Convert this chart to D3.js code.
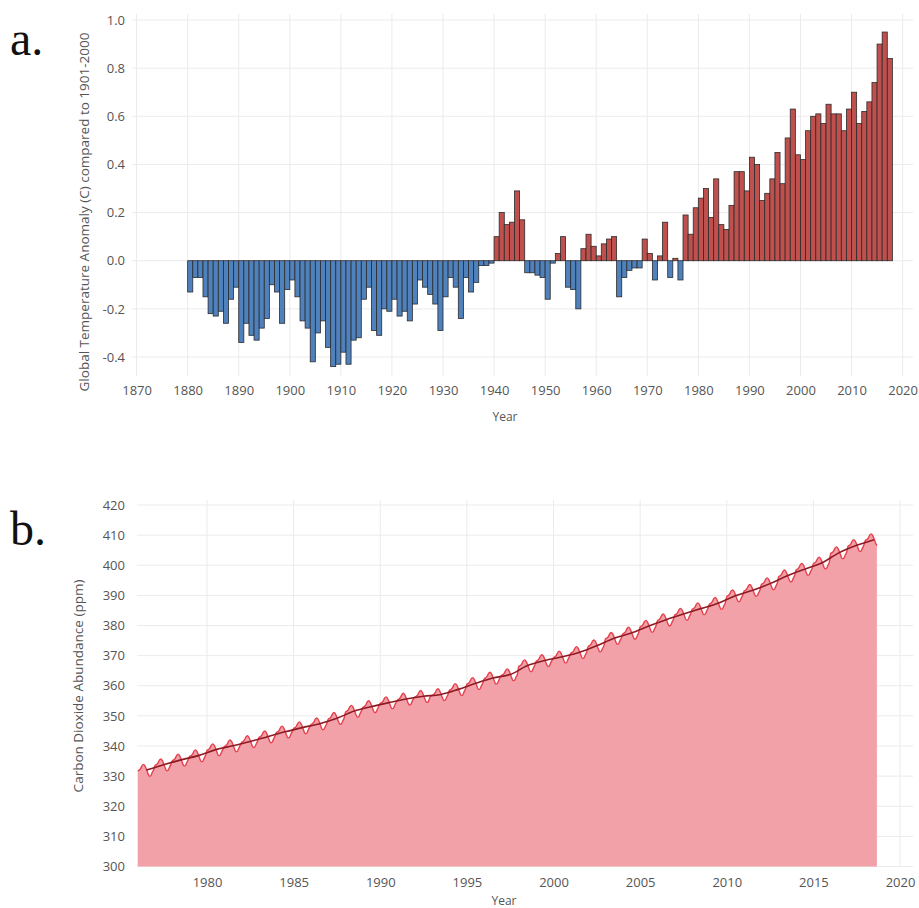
<!DOCTYPE html>
<html>
<head>
<meta charset="utf-8">
<script src="https://cdn.jsdelivr.net/npm/d3@7"></script>
<style>
  body { margin: 0; background: #fff; }
  svg text { font-family: "Open Sans", sans-serif; }
</style>
</head>
<body>
<svg id="chart" width="919" height="908"></svg>
<script>
// a. global temperature anomaly, one bar per year from 1880
const tempFirstYear = 1880;
const tempValues = [
  -0.13, -0.07, -0.07, -0.15, -0.22, -0.23, -0.21, -0.26, -0.16, -0.11, // 1880
  -0.34, -0.26, -0.31, -0.33, -0.28, -0.24, -0.10, -0.13, -0.26, -0.12, // 1890
  -0.08, -0.15, -0.25, -0.28, -0.42, -0.30, -0.25, -0.36, -0.44, -0.43, // 1900
  -0.38, -0.43, -0.33, -0.32, -0.16, -0.11, -0.29, -0.31, -0.20, -0.21, // 1910
  -0.16, -0.23, -0.21, -0.25, -0.18, -0.08, -0.11, -0.14, -0.18, -0.29, // 1920
  -0.15, -0.07, -0.11, -0.24, -0.07, -0.13, -0.09, -0.02, -0.02, -0.01, // 1930
   0.10,  0.20,  0.15,  0.16,  0.29,  0.17, -0.05, -0.05, -0.06, -0.07, // 1940
  -0.16, -0.01,  0.03,  0.10, -0.11, -0.12, -0.20,  0.05,  0.11,  0.06, // 1950
   0.02,  0.07,  0.09,  0.10, -0.15, -0.07, -0.04, -0.03, -0.03,  0.09, // 1960
   0.03, -0.08,  0.02,  0.16, -0.07,  0.01, -0.08,  0.19,  0.11,  0.22, // 1970
   0.26,  0.30,  0.18,  0.34,  0.15,  0.13,  0.23,  0.37,  0.37,  0.29, // 1980
   0.43,  0.40,  0.25,  0.28,  0.34,  0.45,  0.32,  0.51,  0.63,  0.44, // 1990
   0.42,  0.54,  0.60,  0.61,  0.57,  0.65,  0.61,  0.61,  0.54,  0.63, // 2000
   0.70,  0.57,  0.62,  0.66,  0.74,  0.90,  0.95,  0.84              // 2010
];
const tempYTicks = [-0.4, -0.2, 0.0, 0.2, 0.4, 0.6, 0.8, 1.0];
const tempXTicks = [1870, 1880, 1890, 1900, 1910, 1920, 1930, 1940, 1950, 1960, 1970, 1980, 1990, 2000, 2010, 2020];

// b. carbon dioxide, annual means from 1976 plus the seasonal swing seen in the line
const co2FirstYear = 1976;
const co2Annual = [
  332.0, 333.8, 335.4, 336.8, 338.8, 340.1, 341.5, 343.1, 344.7, 346.1, // 1976
  347.4, 349.2, 351.6, 353.1, 354.4, 355.6, 356.5, 357.1, 358.8, 360.8, // 1986
  362.6, 363.7, 366.7, 368.4, 369.6, 371.1, 373.3, 375.8, 377.5, 379.8, // 1996
  381.9, 383.8, 385.6, 387.4, 389.9, 391.7, 393.9, 396.5, 398.7, 400.8, // 2006
  404.2, 406.6, 408.5                                                   // 2016
];
const co2Season = [-0.3, 0.0, 0.5, 1.5, 1.9, 1.4, 0.3, -1.0, -2.0, -1.9, -0.9, 0.1];
const co2MonthsLastYear = 9;
const co2YTicks = [300, 310, 320, 330, 340, 350, 360, 370, 380, 390, 400, 410, 420];
const co2XTicks = [1980, 1985, 1990, 1995, 2000, 2005, 2010, 2015, 2020];

const svg = d3.select("#chart");
svg.append("rect").attr("width", 919).attr("height", 908).attr("fill", "#fff");

function drawGrid(g, xScale, yScale, xTicks, yTicks, x0, x1, y0, y1) {
  g.selectAll("line.h").data(yTicks).join("line")
    .attr("class", "h")
    .attr("x1", x0).attr("x2", x1)
    .attr("y1", (d) => yScale(d)).attr("y2", (d) => yScale(d))
    .attr("stroke", "#ebebeb").attr("stroke-width", 1);
  g.selectAll("line.v").data(xTicks).join("line")
    .attr("class", "v")
    .attr("x1", (d) => xScale(d)).attr("x2", (d) => xScale(d))
    .attr("y1", y0).attr("y2", y1)
    .attr("stroke", "#ebebeb").attr("stroke-width", 1);
}

function styleAxis(g) {
  g.select(".domain").remove();
  g.selectAll("text")
    .attr("fill", "#555")
    .style("font-size", "13px");
}

// ---------- panel a ----------
const xA = d3.scaleLinear().domain([1870, 2020]).range([136.6, 902.6]);
const yA = d3.scaleLinear().domain([-0.4, 1.0]).range([357, 20]);

const tempData = tempValues.map((v, i) => ({ year: tempFirstYear + i, value: v }));

drawGrid(svg.append("g"), xA, yA, tempXTicks, tempYTicks, 132, 913, 14, 376);

svg.append("g")
  .selectAll("rect")
  .data(tempData)
  .join("rect")
  .attr("x", (d) => xA(d.year))
  .attr("width", (d) => xA(d.year + 1) - xA(d.year))
  .attr("y", (d) => yA(Math.max(0, d.value)))
  .attr("height", (d) => Math.abs(yA(d.value) - yA(0)))
  .attr("fill", (d) => (d.value >= 0 ? "#c0504d" : "#4f81bd"))
  .attr("stroke", "#2b2b2b")
  .attr("stroke-width", 0.8);

svg.append("g")
  .attr("transform", "translate(130,0)")
  .call(d3.axisLeft(yA).tickValues(tempYTicks).tickSize(0).tickPadding(5).tickFormat((d) => d.toFixed(1)))
  .call(styleAxis);

svg.append("g")
  .attr("transform", "translate(0,381)")
  .call(d3.axisBottom(xA).tickValues(tempXTicks).tickSize(0).tickPadding(5).tickFormat(d3.format("d")))
  .call(styleAxis);

svg.append("text")
  .attr("x", 505).attr("y", 421)
  .attr("text-anchor", "middle")
  .attr("fill", "#555")
  .style("font-size", "12px")
  .text("Year");

svg.append("text")
  .attr("transform", "translate(89,212) rotate(-90)")
  .attr("text-anchor", "middle")
  .attr("fill", "#555")
  .style("font-size", "13.5px")
  .text("Global Temperature Anomaly (C) compared to 1901-2000");

// ---------- panel b ----------
const xB = d3.scaleLinear().domain([1976, 2020]).range([137.7, 900]);
const yB = d3.scaleLinear().domain([300, 420]).range([866.5, 505]);

const co2Monthly = [];
co2Annual.forEach((mean, i) => {
  const months = i === co2Annual.length - 1 ? co2MonthsLastYear : 12;
  for (let m = 0; m < months; m++) {
    co2Monthly.push({ t: co2FirstYear + i + m / 12, ppm: mean + co2Season[m] });
  }
});
const co2Trend = co2Annual.map((mean, i) => ({ t: co2FirstYear + i + 0.5, ppm: mean }));

drawGrid(svg.append("g"), xB, yB, co2XTicks, co2YTicks, 137, 913, 500, 866.5);

svg.append("path")
  .datum(co2Monthly)
  .attr("fill", "#f3a1a9")
  .attr("d", d3.area().x((d) => xB(d.t)).y0(yB(300)).y1((d) => yB(d.ppm)).curve(d3.curveMonotoneX));

svg.append("path")
  .datum(co2Monthly)
  .attr("fill", "none")
  .attr("stroke", "#e5404c")
  .attr("stroke-width", 1.4)
  .attr("d", d3.line().x((d) => xB(d.t)).y((d) => yB(d.ppm)).curve(d3.curveMonotoneX));

svg.append("path")
  .datum(co2Trend)
  .attr("fill", "none")
  .attr("stroke", "#8e1a23")
  .attr("stroke-width", 1.6)
  .attr("d", d3.line().x((d) => xB(d.t)).y((d) => yB(d.ppm)).curve(d3.curveMonotoneX));

svg.append("g")
  .attr("transform", "translate(130,0)")
  .call(d3.axisLeft(yB).tickValues(co2YTicks).tickSize(0).tickPadding(5).tickFormat(d3.format("d")))
  .call(styleAxis);

svg.append("g")
  .attr("transform", "translate(0,873)")
  .call(d3.axisBottom(xB).tickValues(co2XTicks).tickSize(0).tickPadding(5).tickFormat(d3.format("d")))
  .call(styleAxis);

svg.append("text")
  .attr("x", 504).attr("y", 905)
  .attr("text-anchor", "middle")
  .attr("fill", "#555")
  .style("font-size", "12px")
  .text("Year");

svg.append("text")
  .attr("transform", "translate(83,686) rotate(-90)")
  .attr("text-anchor", "middle")
  .attr("fill", "#555")
  .style("font-size", "13.5px")
  .text("Carbon Dioxide Abundance (ppm)");

// panel letters
svg.append("text").attr("x", 10).attr("y", 55)
  .style("font-family", "'Liberation Serif', serif").style("font-size", "48px")
  .attr("fill", "#111").text("a.");
svg.append("text").attr("x", 10).attr("y", 545)
  .style("font-family", "'Liberation Serif', serif").style("font-size", "48px")
  .attr("fill", "#111").text("b.");
</script>
</body>
</html>
